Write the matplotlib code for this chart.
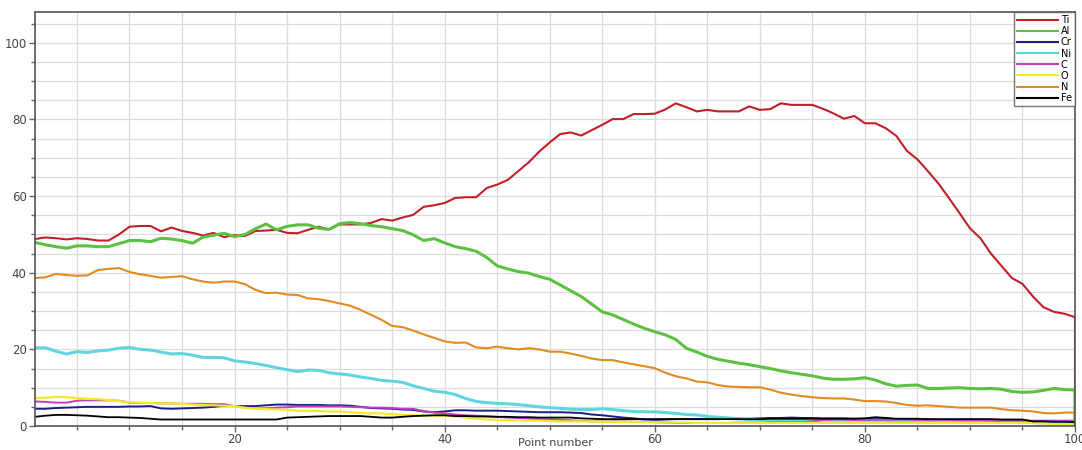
import numpy as np
import matplotlib
matplotlib.use('Agg')
import matplotlib.pyplot as plt
from matplotlib.ticker import MultipleLocator

# point numbers along the profile
points = list(range(1, 101))

# element concentrations (%) per point
Ti = [48.8, 49.2, 49.0, 48.7, 49.0, 48.8, 48.4, 48.4, 50.0, 52.0,
      52.2, 52.2, 50.8, 51.8, 50.9, 50.4, 49.7, 50.4, 49.3, 49.8,
      49.6, 50.9, 51.0, 51.2, 50.4, 50.3, 51.2, 52.0, 51.3, 52.6,
      52.6, 52.6, 53.0, 54.0, 53.6, 54.4, 55.1, 57.2, 57.6, 58.2,
      59.5, 59.7, 59.7, 62.1, 63.0, 64.2, 66.5, 68.8, 71.6, 74.0,
      76.2, 76.6, 75.8, 77.2, 78.6, 80.1, 80.1, 81.4, 81.4, 81.5,
      82.6, 84.2, 83.2, 82.1, 82.5, 82.1, 82.1, 82.1, 83.4, 82.5,
      82.7, 84.2, 83.8, 83.8, 83.8, 82.8, 81.6, 80.2, 80.9, 79.0,
      79.0, 77.7, 75.7, 71.8, 69.6, 66.5, 63.3, 59.5, 55.6, 51.6,
      49.0, 45.0, 41.8, 38.6, 37.1, 33.8, 31.0, 29.8, 29.3, 28.4]

Al = [47.9, 47.3, 46.8, 46.4, 47.0, 47.0, 46.8, 46.8, 47.6, 48.4,
      48.4, 48.1, 49.0, 48.8, 48.4, 47.7, 49.3, 49.8, 50.3, 49.4,
      50.0, 51.5, 52.7, 51.2, 52.1, 52.5, 52.5, 51.6, 51.3, 52.8,
      53.1, 52.8, 52.3, 52.0, 51.5, 51.0, 49.9, 48.4, 48.9, 47.8,
      46.8, 46.3, 45.6, 44.0, 41.8, 41.0, 40.3, 39.9, 39.0, 38.3,
      36.8, 35.3, 33.8, 31.8, 29.8, 29.0, 27.8, 26.6, 25.5, 24.6,
      23.8, 22.6, 20.3, 19.3, 18.2, 17.4, 16.9, 16.4, 16.0, 15.5,
      15.0, 14.4, 13.9, 13.5, 13.1, 12.5, 12.2, 12.2, 12.3, 12.6,
      12.0, 11.0, 10.4, 10.6, 10.7, 9.8, 9.8, 9.9, 10.0, 9.8,
      9.7, 9.8, 9.6, 9.0, 8.8, 8.9, 9.3, 9.8, 9.5, 9.4]

Cr = [4.5, 4.5, 4.7, 4.8, 4.9, 5.0, 5.0, 5.0, 5.0, 5.1,
      5.1, 5.2, 4.6, 4.5, 4.6, 4.7, 4.8, 5.0, 5.3, 5.2,
      5.2, 5.2, 5.4, 5.6, 5.6, 5.5, 5.5, 5.5, 5.4, 5.4,
      5.3, 5.0, 4.7, 4.6, 4.5, 4.3, 4.2, 3.8, 3.6, 3.8,
      4.1, 4.1, 4.0, 4.0, 4.0, 3.9, 3.8, 3.7, 3.6, 3.6,
      3.6, 3.5, 3.4, 3.0, 2.8, 2.5, 2.2, 2.0, 1.7, 1.6,
      1.7, 1.8, 1.8, 1.8, 1.8, 1.8, 1.9, 1.9, 1.9, 2.0,
      2.1, 2.1, 2.2, 2.1, 2.1, 2.0, 2.0, 2.0, 1.9, 1.9,
      2.0, 1.9, 1.8, 1.8, 1.7, 1.7, 1.6, 1.6, 1.6, 1.6,
      1.6, 1.5, 1.5, 1.5, 1.4, 1.3, 1.2, 1.2, 1.2, 1.2]

Ni = [20.4, 20.4, 19.5, 18.8, 19.4, 19.2, 19.6, 19.8, 20.3, 20.5,
      20.0, 19.8, 19.3, 18.8, 18.9, 18.5, 17.9, 17.9, 17.8, 17.0,
      16.7, 16.3, 15.8, 15.2, 14.7, 14.2, 14.6, 14.5, 13.9, 13.6,
      13.3, 12.8, 12.4, 11.9, 11.7, 11.4, 10.5, 9.8, 9.1, 8.8,
      8.2, 7.2, 6.4, 6.1, 5.9, 5.8, 5.6, 5.3, 5.0, 4.8,
      4.6, 4.4, 4.3, 4.3, 4.5, 4.3, 4.0, 3.8, 3.7, 3.7,
      3.5, 3.3, 3.0, 2.9, 2.5, 2.3, 2.1, 1.9, 1.7, 1.7,
      1.6, 1.6, 1.5, 1.5, 1.5, 1.5, 1.5, 1.5, 1.5, 1.5,
      1.5, 1.5, 1.4, 1.4, 1.4, 1.4, 1.4, 1.4, 1.3, 1.3,
      1.2, 1.2, 1.1, 1.0, 1.0, 0.9, 0.8, 0.8, 0.7, 0.7]

C = [6.4, 6.3, 6.1, 6.1, 6.6, 6.7, 6.7, 6.7, 6.6, 6.1,
     6.0, 6.0, 5.9, 5.9, 5.8, 5.8, 5.8, 5.7, 5.7, 5.2,
     4.9, 4.6, 4.6, 4.8, 4.9, 5.1, 5.1, 5.1, 5.1, 5.1,
     5.0, 4.9, 4.8, 4.8, 4.7, 4.5, 4.5, 3.9, 3.5, 3.3,
     3.0, 2.8, 2.7, 2.5, 2.4, 2.2, 2.1, 1.9, 1.8, 1.7,
     1.6, 1.5, 1.3, 1.2, 1.2, 1.2, 1.2, 1.1, 1.1, 1.0,
     0.9, 0.8, 0.8, 0.8, 0.8, 0.8, 0.8, 0.9, 0.9, 0.9,
     1.0, 1.0, 1.0, 1.0, 1.2, 1.6, 1.7, 1.7, 1.6, 1.6,
     1.6, 1.6, 1.7, 1.7, 1.6, 1.6, 1.6, 1.6, 1.5, 1.5,
     1.5, 1.4, 1.4, 1.4, 1.4, 1.4, 1.4, 1.4, 1.4, 1.4]

O = [7.3, 7.4, 7.6, 7.5, 7.3, 7.1, 7.0, 6.8, 6.5, 6.2,
     6.1, 6.0, 5.9, 5.9, 5.8, 5.6, 5.5, 5.4, 5.3, 5.2,
     4.7, 4.6, 4.4, 4.3, 4.2, 4.0, 3.9, 3.9, 3.8, 3.8,
     3.6, 3.4, 3.3, 3.3, 3.1, 2.9, 2.8, 2.7, 2.7, 2.7,
     2.5, 2.2, 1.9, 1.7, 1.6, 1.5, 1.5, 1.4, 1.4, 1.3,
     1.2, 1.2, 1.2, 1.2, 1.1, 1.1, 1.1, 1.0, 1.0, 1.0,
     0.9, 0.9, 0.9, 0.8, 0.8, 0.8, 0.8, 0.8, 0.8, 0.8,
     0.8, 0.8, 0.8, 0.8, 0.8, 0.8, 0.8, 0.8, 0.8, 0.8,
     0.8, 0.8, 0.8, 0.8, 0.8, 0.8, 0.8, 0.8, 0.8, 0.8,
     0.8, 0.8, 0.8, 0.8, 0.8, 0.8, 0.7, 0.5, 0.5, 0.5]

N = [38.6, 38.8, 39.7, 39.4, 39.2, 39.3, 40.7, 41.0, 41.2, 40.2,
     39.6, 39.2, 38.7, 38.9, 39.1, 38.3, 37.7, 37.4, 37.7, 37.7,
     37.0, 35.5, 34.7, 34.8, 34.3, 34.2, 33.3, 33.1, 32.6, 32.0,
     31.4, 30.3, 29.0, 27.7, 26.1, 25.8, 24.9, 23.9, 23.0, 22.1,
     21.7, 21.8, 20.5, 20.3, 20.7, 20.3, 20.0, 20.3, 20.0, 19.4,
     19.4, 18.9, 18.3, 17.6, 17.2, 17.2, 16.6, 16.1, 15.6, 15.1,
     13.9, 13.0, 12.4, 11.6, 11.4, 10.7, 10.3, 10.2, 10.1, 10.1,
     9.5, 8.7, 8.2, 7.8, 7.5, 7.3, 7.2, 7.2, 6.9, 6.5,
     6.5, 6.4, 6.0, 5.5, 5.3, 5.4, 5.2, 5.0, 4.8, 4.8,
     4.8, 4.8, 4.4, 4.1, 4.0, 3.8, 3.4, 3.3, 3.5, 3.5]

Fe = [2.4, 2.7, 2.9, 2.9, 2.8, 2.7, 2.5, 2.3, 2.3, 2.2,
      2.1, 1.9, 1.7, 1.7, 1.7, 1.7, 1.7, 1.7, 1.7, 1.7,
      1.7, 1.7, 1.7, 1.7, 2.2, 2.3, 2.4, 2.5, 2.6, 2.6,
      2.6, 2.6, 2.4, 2.2, 2.2, 2.4, 2.6, 2.7, 2.8, 2.8,
      2.6, 2.6, 2.5, 2.5, 2.4, 2.4, 2.3, 2.3, 2.2, 2.2,
      2.2, 2.2, 2.0, 1.9, 1.8, 1.8, 1.8, 1.8, 1.8, 1.8,
      1.8, 1.8, 1.8, 1.8, 1.8, 1.8, 1.8, 1.8, 1.8, 1.8,
      1.9, 1.9, 1.9, 1.9, 1.9, 1.9, 1.9, 1.9, 1.9, 2.0,
      2.3, 2.1, 1.9, 1.9, 1.9, 1.8, 1.8, 1.8, 1.8, 1.8,
      1.8, 1.8, 1.7, 1.7, 1.7, 1.2, 1.2, 1.1, 1.1, 1.0]

# every trace drops back to zero at the last point
end_value = 0

series = [('Ti', Ti, '#c21f2b', 1.5),
          ('Al', Al, '#5cc142', 2.2),
          ('Cr', Cr, '#1c1f86', 1.4),
          ('Ni', Ni, '#62d4df', 2.2),
          ('C', C, '#c23fc4', 1.4),
          ('O', O, '#f2e92a', 1.6),
          ('N', N, '#e38a23', 1.5),
          ('Fe', Fe, '#000000', 1.3)]

fig = plt.figure(figsize=(10.82, 4.5), dpi=100)
ax = fig.add_axes([0.0323, 0.0533, 0.9612, 0.9197])

x = points + [points[-1]]
for name, vals, col, lw in series:
    ax.plot(x, vals + [end_value], color=col, lw=lw, label=name, solid_joinstyle='round')

ax.set_xlim(1, 100)
ax.set_ylim(0, 108)
ax.xaxis.set_major_locator(MultipleLocator(20))
ax.xaxis.set_minor_locator(MultipleLocator(5))
ax.yaxis.set_major_locator(MultipleLocator(20))
ax.yaxis.set_minor_locator(MultipleLocator(5))
ax.grid(True, which='both', color='#dcdcdc', lw=0.9)
ax.set_axisbelow(True)

ax.tick_params(which='both', direction='out', colors='#666666', labelcolor='#444444',
               labelsize=8.5, width=1)
ax.tick_params(which='major', length=4, pad=2)
ax.tick_params(which='minor', length=3)
ax.tick_params(axis='x', which='major', pad=1)

for s in ax.spines.values():
    s.set_color('#555555')
    s.set_linewidth(1.2)

ax.set_xlabel('Point number', fontsize=8, color='#444444')
ax.xaxis.set_label_coords(0.5, -0.028)

leg = ax.legend(loc='upper right', fontsize=7, frameon=True, fancybox=False,
                borderaxespad=0, handlelength=4.2, handletextpad=0.3,
                labelspacing=0.12, borderpad=0.3)
leg.get_frame().set_edgecolor('#555555')
leg.get_frame().set_linewidth(1)
for line in leg.get_lines():
    line.set_linewidth(1.5)

fig.savefig('out.png', dpi=100)
